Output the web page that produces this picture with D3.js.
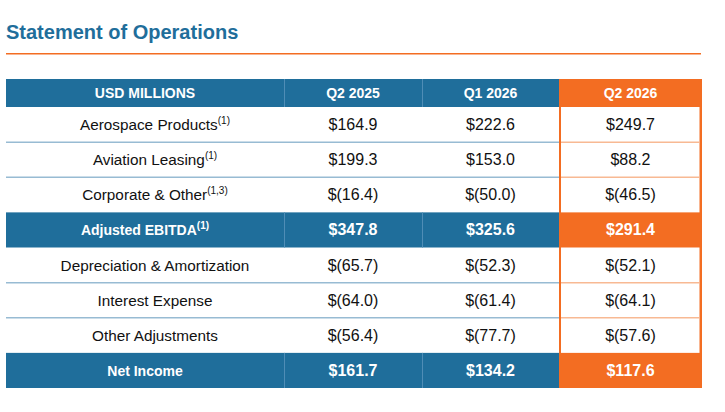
<!DOCTYPE html>
<html>
<head>
<meta charset="utf-8">
<script src="https://cdn.jsdelivr.net/npm/d3@7"></script>
<style>
  body { margin: 0; background: #fff; }
  svg text { font-family: "Liberation Sans", Arial, sans-serif; }
</style>
</head>
<body>
<div id="chart"></div>
<script>
// table data
const columns = ["USD MILLIONS", "Q2 2025", "Q1 2026", "Q2 2026"];
const rowLabels = ["Aerospace Products", "Aviation Leasing", "Corporate & Other", "Adjusted EBITDA",
  "Depreciation & Amortization", "Interest Expense", "Other Adjustments", "Net Income"];
const rowNotes = ["(1)", "(1)", "(1,3)", "(1)", "", "", "", ""];
const totalRows = [false, false, false, true, false, false, false, true];
const q2_2025 = [164.9, 199.3, -16.4, 347.8, -65.7, -64.0, -56.4, 161.7];
const q1_2026 = [222.6, 153.0, -50.0, 325.6, -52.3, -61.4, -77.7, 134.2];
const q2_2026 = [249.7, 88.2, -46.5, 291.4, -52.1, -64.1, -57.6, 117.6];

const width = 725;
const height = 412;
const blue = "#1f6e9b";
const orange = "#f36d22";

const svg = d3.select("#chart").append("svg")
  .attr("width", width)
  .attr("height", height);

// タイトル
svg.append("text")
  .attr("x", 6)
  .attr("y", 39)
  .attr("fill", blue)
  .attr("font-size", 20)
  .attr("font-weight", "bold")
  .text("Statement of Operations");

svg.append("rect")
  .attr("x", 6)
  .attr("y", 53)
  .attr("width", 695)
  .attr("height", 1.5)
  .attr("fill", orange);

// column edges
const colX = d3.scaleOrdinal().domain(columns).range([6, 284, 422, 559]);
const colW = d3.scaleOrdinal().domain(columns).range([278, 138, 137, 143]);

const headTop = 79;
const headH = 28;
const yScale = d3.scaleBand()
  .domain(d3.range(rowLabels.length))
  .range([headTop + headH, 388]);

const money = function (v) {
  const s = d3.format(".1f")(Math.abs(v));
  return v < 0 ? "$(" + s + ")" : "$" + s;
};

// header band
svg.append("rect")
  .attr("x", colX(columns[0]))
  .attr("y", headTop)
  .attr("width", colX(columns[3]) - colX(columns[0]))
  .attr("height", headH)
  .attr("fill", blue);

// blue total rows
const rows = rowLabels.map(function (d, i) {
  return { i: i, label: d, note: rowNotes[i], total: totalRows[i], vals: [q2_2025[i], q1_2026[i], q2_2026[i]] };
});

svg.append("g")
  .selectAll("rect")
  .data(rows.filter(function (d) { return d.total; }))
  .enter()
  .append("rect")
  .attr("x", colX(columns[0]))
  .attr("y", function (d) { return yScale(d.i); })
  .attr("width", colX(columns[3]) - colX(columns[0]))
  .attr("height", yScale.bandwidth())
  .attr("fill", blue);

// orange column
svg.append("rect")
  .attr("x", colX(columns[3]))
  .attr("y", headTop)
  .attr("width", colW(columns[3]))
  .attr("height", 388 - headTop)
  .attr("fill", orange);

svg.append("g")
  .selectAll("rect")
  .data(rows.filter(function (d) { return !d.total; }))
  .enter()
  .append("rect")
  .attr("x", colX(columns[3]) + 2)
  .attr("y", function (d) { return yScale(d.i); })
  .attr("width", colW(columns[3]) - 4.5)
  .attr("height", yScale.bandwidth())
  .attr("fill", "#fff");

// row separators between white rows
const seps = rows.filter(function (d, i) {
  return i > 0 && !d.total && !rows[i - 1].total;
});
svg.append("g")
  .selectAll("line")
  .data(seps)
  .enter()
  .append("line")
  .attr("x1", colX(columns[0]))
  .attr("x2", colX(columns[3]))
  .attr("y1", function (d) { return yScale(d.i); })
  .attr("y2", function (d) { return yScale(d.i); })
  .attr("stroke", "#98bbd3")
  .attr("stroke-width", 1.5);

svg.append("g")
  .selectAll("line")
  .data(seps)
  .enter()
  .append("line")
  .attr("x1", colX(columns[3]) + 2)
  .attr("x2", colX(columns[3]) + colW(columns[3]) - 2.5)
  .attr("y1", function (d) { return yScale(d.i); })
  .attr("y2", function (d) { return yScale(d.i); })
  .attr("stroke", "#f8b993")
  .attr("stroke-width", 1.5);

// vertical dividers in blue bands
const bands = [{ y: headTop, h: headH }].concat(rows.filter(function (d) { return d.total; }).map(function (d) {
  return { y: yScale(d.i), h: yScale.bandwidth() };
}));
bands.forEach(function (b) {
  [columns[1], columns[2]].forEach(function (c) {
    svg.append("line")
      .attr("x1", colX(c) + 0.5).attr("x2", colX(c) + 0.5)
      .attr("y1", b.y).attr("y2", b.y + b.h)
      .attr("stroke", "#4f8db6")
      .attr("stroke-width", 1);
  });
});

// header text
svg.append("g")
  .selectAll("text")
  .data(columns)
  .enter()
  .append("text")
  .attr("x", function (d) { return colX(d) + colW(d) / 2; })
  .attr("y", headTop + headH / 2 + 5)
  .attr("text-anchor", "middle")
  .attr("fill", "#fff")
  .attr("font-size", 14)
  .attr("font-weight", "bold")
  .text(function (d) { return d; });

// row labels
const labels = svg.append("g")
  .selectAll("text")
  .data(rows)
  .enter()
  .append("text")
  .attr("x", function (d) { return d.total ? colX(columns[0]) + colW(columns[0]) / 2 : 155; })
  .attr("y", function (d) { return yScale(d.i) + yScale.bandwidth() / 2 + 5.5; })
  .attr("text-anchor", "middle")
  .attr("fill", function (d) { return d.total ? "#fff" : "#111"; })
  .attr("font-size", function (d) { return d.total ? 14 : 15.3; })
  .attr("font-weight", function (d) { return d.total ? "bold" : "normal"; });

labels.append("tspan")
  .text(function (d) { return d.label; });
labels.append("tspan")
  .attr("font-size", 10)
  .attr("dy", -6)
  .text(function (d) { return d.note; });

// values
rows.forEach(function (r) {
  r.vals.forEach(function (v, k) {
    const c = columns[k + 1];
    svg.append("text")
      .attr("x", colX(c) + colW(c) / 2)
      .attr("y", yScale(r.i) + yScale.bandwidth() / 2 + 5.5)
      .attr("text-anchor", "middle")
      .attr("fill", r.total ? "#fff" : "#111")
      .attr("font-size", r.total ? 16 : 16)
      .attr("font-weight", r.total ? "bold" : "normal")
      .text(money(v));
  });
});
</script>
</body>
</html>
